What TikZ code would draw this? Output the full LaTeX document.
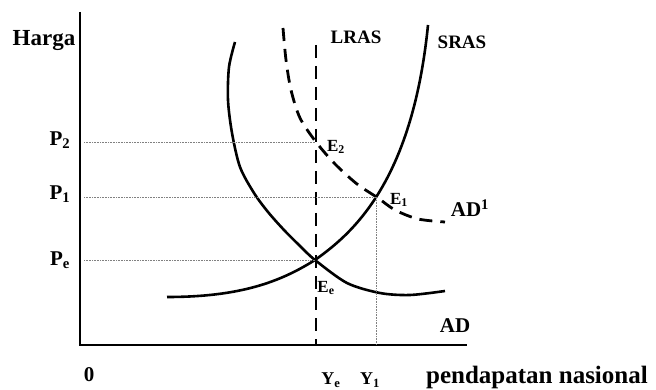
\documentclass[tikz,border=0pt]{standalone}
\usepackage{fontspec}
\setmainfont{Liberation Serif}
\usepackage{tikz}
\usetikzlibrary{calc, intersections}

\tikzset{
  solidcurve/.style={line width=2.6pt},
  dashcurve/.style={line width=2.8pt, dash pattern=on 13pt off 8pt},
  guide/.style={gray, line width=0.6pt, densely dotted},
  lbl/.style={font=\bfseries\fontsize{#1}{#1}\selectfont, inner sep=0pt},
  lbl/.default=21,
}

\begin{document}
\begin{tikzpicture}[x=1pt, y=-1pt]
		\useasboundingbox (0,0) rectangle (656,390);
		
		% Axes
		\coordinate (O) at (80,345);
		\coordinate (ytop) at (80,12);
		\coordinate (xend) at (467,345);
		\draw[line width=2pt] (ytop) -- (O) -- (xend);
		
		% LRAS (vertical, dashed)
		\coordinate (lrastop) at (316,45);
		\draw[dashcurve, name path=lras] (lrastop) -- (lrastop |- O);
		
		% SRAS
		\draw[solidcurve, name path=sras] (167,297) .. controls (240,297) and (280,282) .. (315,260)
			.. controls (350,235) and (412,185) .. (428,25);
		
		% AD
		\draw[solidcurve, name path=ad] plot[smooth] coordinates {(235,42) (229,67) (228,100)
			(232,133) (240,167) (254,193) (268,212) (284,230) (300,246) (315,260)
			(347,283) (380,293) (410,295) (445,291)};
		
		% AD^1 (shifted, dashed)
		\draw[dashcurve, name path=adone] plot[smooth] coordinates {(283,28) (286,60) (291,90)
			(300,118) (316,142) (335,164) (357,184) (378,198) (395,210) (418,219) (445,222)};
		
		% Equilibrium points
		\path[name intersections={of=sras and ad, by=E0}];
		\path[name intersections={of=sras and adone, by=E1}];
		\path[name intersections={of=lras and adone, by=E2}];
		
		% Guide lines to the axes
		\draw[guide] ($(O |- E2)+(4,0)$) -- (E2);
		\draw[guide] ($(O |- E1)+(4,0)$) -- (E1);
		\draw[guide] ($(O |- E0)+(4,0)$) -- (E0);
		\draw[guide] (E1) -- (E1 |- O);
		
		% Labels
		\node[lbl=23] (harga) at (44,41) {Harga};
		\node[lbl] (p2) at (60,140) {P\textsubscript{2}};
		\node[lbl] (p1) at (60,194) {P\textsubscript{1}};
		\node[lbl] (pe) at (60,260) {P\textsubscript{e}};
		\node[lbl] (zero) at (89,375) {0};
		\node[lbl=19] (lras) at (356,37) {LRAS};
		\node[lbl=19] (sras) at (462,42) {SRAS};
		\node[lbl=17] (e2) at (336,147) {E\textsubscript{2}};
		\node[lbl=17] (e1) at (399,200) {E\textsubscript{1}};
		\node[lbl=17] (ee) at (326,288) {E\textsubscript{e}};
		\node[lbl] (ad1) at (470,208) {AD\textsuperscript{1}};
		\node[lbl] (ad) at (455,326) {AD};
		\node[lbl=18] (ye) at (331,380) {Y\textsubscript{e}};
		\node[lbl=18] (y1) at (370,380) {Y\textsubscript{1}};
		\node[lbl=25] (pn) at (537,377) {pendapatan nasional};
	\end{tikzpicture}
\end{document}
